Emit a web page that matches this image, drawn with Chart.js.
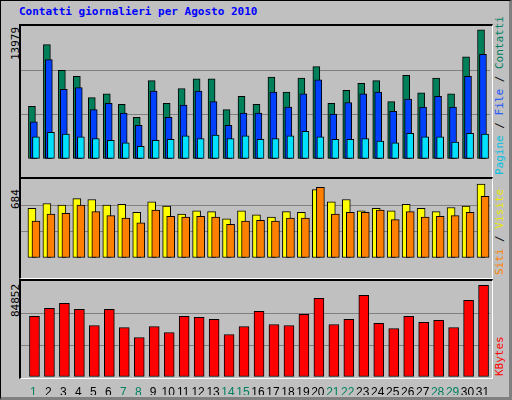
<!DOCTYPE html>
<html>
<head>
<meta charset="utf-8">
<script src="https://cdn.jsdelivr.net/npm/chart.js@4/dist/chart.umd.min.js"></script>
<style>
  body { margin: 0; background: #fff; }
  #frame { position: absolute; left: 0; top: 0; background: #c0c0c0;
    border: 1px solid #000; border-right: 3px solid #808080; border-bottom: 3px solid #808080; box-sizing: border-box; width: 512px; height: 400px; }
  .title { position: absolute; left: 19px; top: 5px; font: bold 11px "DejaVu Sans Mono", monospace; color: #0000ff; }
  .panel { position: absolute; left: 19px; width: 471px; border-top: 2px solid #000; border-left: 2px solid #000;
    border-right: 1px solid #fff; border-bottom: 1px solid #fff; background: #c0c0c0; box-sizing: content-box; }
  .vl { position: absolute; font: 11px "DejaVu Sans Mono", monospace; transform: rotate(-90deg); transform-origin: left top; white-space: nowrap; }
  canvas { position: absolute; }
</style>
</head>
<body>
<div id="frame"></div>
<div class="title">Contatti giornalieri per Agosto 2010</div>

<div class="panel" style="top:24px;height:152px"></div>
<div class="panel" style="top:177px;height:99px"></div>
<div class="panel" style="top:279px;height:97px"></div>

<div class="vl" style="left:9px;top:60px;color:#000">13979</div>
<div class="vl" style="left:9px;top:209px;color:#000">684</div>
<div class="vl" style="left:9px;top:317px;color:#000">84852</div>

<div class="vl" style="left:493px;top:175px"><span style="color:#00c0e0">Pagine</span> / <span style="color:#1050ff">File</span> / <span style="color:#008060">Contatti</span></div>
<div class="vl" style="left:493px;top:275px"><span style="color:#ff8000">Siti</span> / <span style="color:#e8e800">Visite</span></div>
<div class="vl" style="left:493px;top:376px;color:#ff0000">KBytes</div>

<canvas id="c1" style="left:21px;top:26px;width:469px;height:151px"></canvas>
<canvas id="c2" style="left:21px;top:179px;width:469px;height:97px"></canvas>
<canvas id="c3" style="left:21px;top:281px;width:469px;height:114px"></canvas>

<script>
const days = Array.from({ length: 31 }, (_, i) => i + 1);
const weekend = [1, 7, 8, 14, 15, 21, 22, 28, 29];

const contatti = [5690, 12370, 9580, 8950, 6640, 7060, 5920, 4500, 8480, 6010, 7630, 8670, 8670, 5350, 6770, 5920,
  8860, 7250, 8760, 10000, 6010, 7440, 8190, 8480, 6200, 9050, 7150, 8760, 7060, 11040, 13979];
const file = [4020, 10750, 7530, 7720, 5350, 6010, 4970, 3640, 7340, 4500, 5820, 7340, 6200, 3640, 4970, 4970,
  7250, 5630, 7060, 8570, 4870, 6110, 7060, 7250, 5160, 6490, 5630, 6770, 5630, 8950, 11320];
const pagine = [2410, 2880, 2690, 2410, 2220, 2030, 1750, 1370, 2030, 2120, 2500, 2220, 2600, 2220, 2500, 2120,
  2220, 2500, 2980, 2410, 2120, 2120, 2220, 1930, 1750, 2790, 2410, 2410, 1840, 2790, 2690];
const visite = [460, 505, 490, 550, 542, 490, 497, 423, 520, 482, 408, 438, 430, 363, 438, 400,
  378, 430, 423, 634, 520, 542, 438, 460, 438, 497, 460, 430, 468, 482, 684];
const siti = [341, 408, 415, 490, 430, 393, 371, 326, 445, 385, 378, 385, 378, 311, 341, 348,
  341, 371, 371, 654, 408, 423, 423, 445, 356, 430, 378, 385, 393, 423, 572];
const kbytes = [56050, 63490, 68130, 62560, 47690, 62560, 45830, 36540, 46760, 41190, 56050, 55120, 53270, 39330, 46760, 60700,
  48620, 47690, 57910, 72780, 48620, 53270, 75560, 49550, 44910, 56050, 50480, 52340, 45830, 70920, 84852];

function ds(values, color, shift, width) {
  return {
    data: values.map((v, i) => ({ x: days[i] + shift, y: v })),
    backgroundColor: color, borderColor: '#000', borderWidth: 1,
    barThickness: width, grouped: false, borderSkipped: false
  };
}

function make(id, datasets, max, showX) {
  return new Chart(document.getElementById(id), {
    type: 'bar',
    data: { datasets },
    options: {
      responsive: false, animation: false,
      devicePixelRatio: 1,
      layout: { padding: 0 },
      plugins: { legend: { display: false }, tooltip: { enabled: false } },
      scales: {
        x: {
          type: 'linear', min: 0.27, max: 31.6, offset: false,
          display: showX,
          grid: { display: false }, border: { display: false },
          afterBuildTicks: s => { s.ticks = days.map(d => ({ value: d + 0.1 })); },
          afterFit: s => { s.height = 18; },
          ticks: {
            autoSkip: false, maxRotation: 0, padding: 0,
            font: { family: 'Liberation Sans', size: 12 },
            color: c => weekend.includes(Math.round(c.tick.value)) ? '#008060' : '#000',
            callback: v => Math.round(v)
          }
        },
        y: {
          min: 0, max, display: true,
          afterFit: s => { s.width = 0; },
          ticks: { display: false, stepSize: max / 3 },
          border: { display: false },
          grid: {
            color: c => (c.tick.value > 1 && c.tick.value < max - 1) ? '#808080' : 'rgba(0,0,0,0)',
            lineWidth: 1, drawTicks: false
          }
        }
      }
    }
  });
}

function size(id, w, h) { const c = document.getElementById(id); c.width = w; c.height = h; }
size('c1', 469, 151); size('c2', 469, 97); size('c3', 469, 114);

make('c1', [
  ds(pagine, '#00e0ff', 0.27, 7),
  ds(file, '#0040ff', 0.13, 7),
  ds(contatti, '#00805a', 0, 7)
], 14388, false);

make('c2', [
  ds(siti, '#ff8000', 0.27, 8),
  ds(visite, '#ffff00', 0, 8)
], 732, false);

make('c3', [ds(kbytes, '#ff0000', 0.17, 10)], 88830, true);
</script>
</body>
</html>
